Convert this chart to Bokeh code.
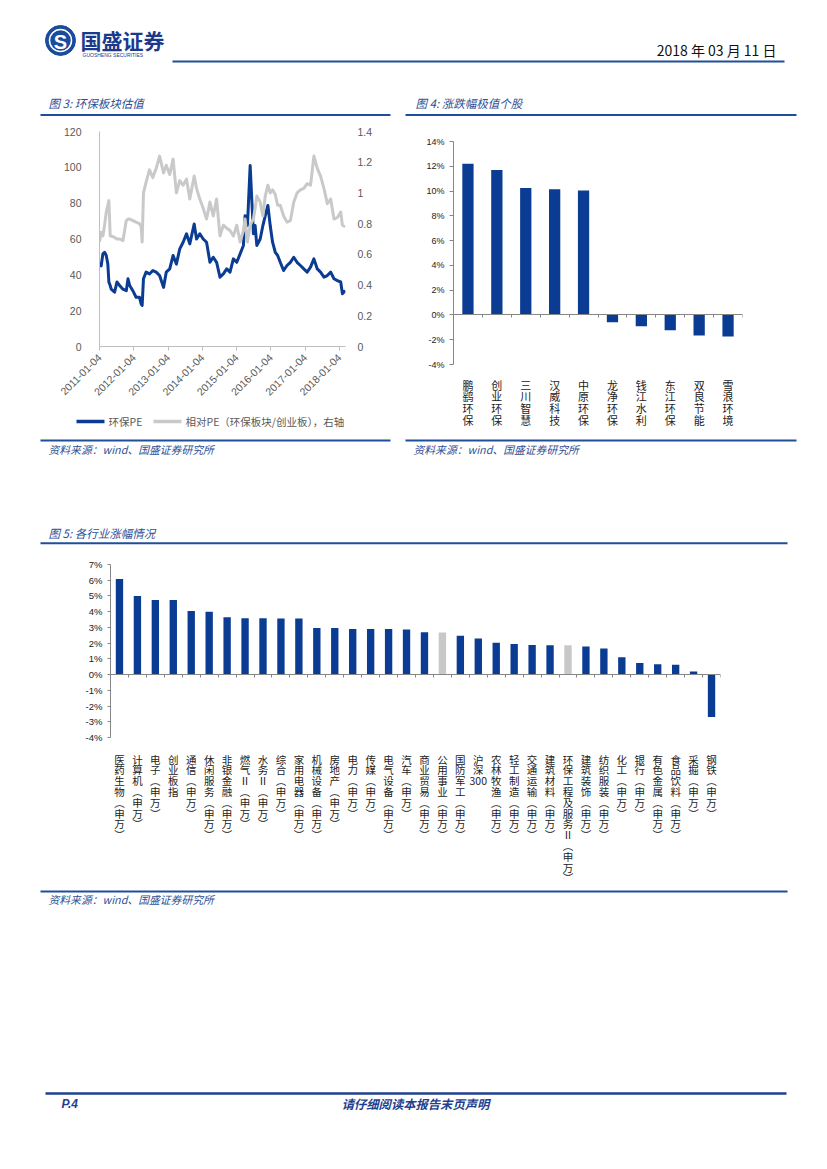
import math
import pandas as pd
from bokeh.plotting import figure
from bokeh.models import (Range1d, LinearAxis, FixedTicker, LinearScale,
                          DatetimeTickFormatter, NumeralTickFormatter, PrintfTickFormatter)
from bokeh.layouts import column, row
from bokeh.core.properties import value
from bokeh.embed import file_html
from bokeh.resources import INLINE

# ---------------- data ----------------
# Figure 3: 环保板块估值
dates3 = ["2011-01-04","2011-01-22","2011-02-09","2011-02-27","2011-03-17","2011-04-03","2011-04-14","2011-04-28","2011-05-09","2011-06-14",
          "2011-07-09","2011-08-07","2011-09-11","2011-10-17","2011-11-04","2011-11-22","2011-12-27","2012-01-29","2012-03-05","2012-03-23",
          "2012-04-03","2012-04-17","2012-05-15","2012-06-20","2012-07-26","2012-08-31","2012-10-06","2012-11-17","2012-12-16","2013-01-22",
          "2013-02-27","2013-04-03","2013-05-09","2013-06-14","2013-07-20","2013-08-24","2013-10-10","2013-11-04","2013-12-09","2014-01-14",
          "2014-02-19","2014-03-27","2014-05-01","2014-06-06","2014-07-12","2014-08-17","2014-09-22","2014-10-27","2014-12-02","2015-01-07",
          "2015-02-12","2015-03-19","2015-04-06","2015-05-01","2015-05-30","2015-06-16","2015-07-04","2015-07-22","2015-08-09","2015-09-14",
          "2015-10-13","2015-11-07","2015-12-05","2015-12-30","2016-01-24","2016-02-22","2016-03-18","2016-04-15","2016-05-21","2016-06-26",
          "2016-08-01","2016-09-06","2016-10-11","2016-11-16","2016-12-22","2017-01-27","2017-03-04","2017-04-09","2017-05-15","2017-06-19",
          "2017-07-25","2017-08-30","2017-10-05","2017-11-09","2017-12-15","2018-01-20","2018-02-07","2018-03-09"]
pe3 = [47, 45, 51.7, 52.6, 50.8, 46, 36, 34, 32, 30.3,
       36, 34, 32, 31.2, 37.8, 34, 31, 27.5, 27.5, 23.8,
       22.9, 37.8, 41.5, 40.5, 42.4, 41.5, 39.6, 33, 41.5, 43.3,
       50.8, 46, 54.5, 58.2, 62.9, 57.3, 68.4, 60, 62.9, 60,
       58.2, 47, 49.8, 47, 38.7, 40.5, 43.3, 41.5, 48.9, 47,
       51.7, 56.4, 73, 67.5, 101, 82.4, 62.9, 67.5, 56.4, 60,
       67.5, 73, 78.7, 67.5, 58.2, 52.6, 50.8, 47, 42.4, 45.2,
       47, 49.8, 47, 45.2, 43.3, 41.5, 44.3, 48.9, 43.3, 41.5,
       38.7, 39.6, 41.5, 37.8, 36.8, 36, 29.4, 31.2]
rel3 = [0.68, 0.744, 0.72, 0.79, 0.875, 0.92, 0.95, 0.72, 0.72, 0.71,
        0.70, 0.70, 0.69, 0.82, 0.83, 0.83, 0.82, 0.81, 0.80, 0.78,
        0.68, 1.0, 1.07, 1.15, 1.10, 1.16, 1.24, 1.13, 1.18, 1.12,
        1.22, 1.0, 1.08, 1.05, 1.09, 0.96, 1.11, 1.03, 0.96, 0.90,
        0.83, 0.94, 0.85, 0.96, 0.72, 0.79, 0.77, 0.755, 0.72, 0.79,
        0.68, 0.755, 0.83, 0.68, 0.79, 0.81, 0.83, 0.90, 0.98, 0.94,
        0.85, 0.98, 1.05, 1.0, 1.02, 0.99, 0.92, 0.92, 0.85, 0.81,
        0.82, 0.94, 1.0, 1.02, 1.03, 1.06, 1.05, 1.24, 1.16, 1.11,
        1.03, 0.93, 0.96, 0.83, 0.84, 0.875, 0.79, 0.78]
tick_dates3 = ["2011-01-04", "2012-01-04", "2013-01-04", "2014-01-04",
               "2015-01-04", "2016-01-04", "2017-01-04", "2018-01-04"]
left_ticks3 = [0, 20, 40, 60, 80, 100, 120]
right_ticks3 = [0, 0.2, 0.4, 0.6, 0.8, 1.0, 1.2, 1.4]
legend3 = ["环保PE", "相对PE（环保板块/创业板），右轴"]

# Figure 4: 涨跌幅极值个股 (%)
names4 = ["鹏鹞环保", "创业环保", "三川智慧", "汉威科技", "中原环保",
          "龙净环保", "钱江水利", "东江环保", "双良节能", "雪浪环境"]
vals4 = [12.2, 11.7, 10.25, 10.15, 10.05, -0.58, -0.92, -1.23, -1.65, -1.73]
ticks4 = [-4, -2, 0, 2, 4, 6, 8, 10, 12, 14]

# Figure 5: 各行业涨幅情况 (%)
names5 = ["医药生物(申万)", "计算机(申万)", "电子(申万)", "创业板指", "通信(申万)", "休闲服务(申万)",
          "非银金融(申万)", "燃气Ⅱ(申万)", "水务Ⅱ(申万)", "综合(申万)", "家用电器(申万)", "机械设备(申万)",
          "房地产(申万)", "电力(申万)", "传媒(申万)", "电气设备(申万)", "汽车(申万)", "商业贸易(申万)",
          "公用事业(申万)", "国防军工(申万)", "沪深300", "农林牧渔(申万)", "轻工制造(申万)", "交通运输(申万)",
          "建筑材料(申万)", "环保工程及服务Ⅱ(申万)", "建筑装饰(申万)", "纺织服装(申万)", "化工(申万)",
          "银行(申万)", "有色金属(申万)", "食品饮料(申万)", "采掘(申万)", "钢铁(申万)"]
vals5 = [6.08, 4.99, 4.74, 4.74, 4.05, 3.99, 3.64, 3.58, 3.58, 3.56, 3.56, 2.96,
         2.96, 2.90, 2.90, 2.90, 2.86, 2.70, 2.68, 2.47, 2.29, 2.02, 1.94, 1.88,
         1.86, 1.86, 1.78, 1.66, 1.10, 0.74, 0.65, 0.63, 0.20, -2.70]
highlight5 = ["公用事业(申万)", "环保工程及服务Ⅱ(申万)"]
ticks5 = [-4, -3, -2, -1, 0, 1, 2, 3, 4, 5, 6, 7]

# page texts
company = "国盛证券"
company_en = "GUOSHENG SECURITIES"
report_date = "2018 年 03 月 11 日"
title3 = "图 3:  环保板块估值"
title4 = "图 4:  涨跌幅极值个股"
title5 = "图 5:  各行业涨幅情况"
source = "资料来源：wind、国盛证券研究所"
page_no = "P.4"
footer = "请仔细阅读本报告末页声明"

# ---------------- styles ----------------
CJK = "Noto Sans CJK SC"
LAT = "Liberation Sans"
BLUE = "#0B3C93"
GREY_LINE = "#C9C9C9"
GREY_BAR = "#C8C8C8"
HEAD = "#2F4F95"
RULE = "#1F4E9A"
AX = "#868686"


def mk(**kw):
    p = figure(toolbar_location=None, output_backend="svg", outline_line_color=None, **kw)
    if "frame_align" in p.properties():
        p.frame_align = False
    return p


def strip(w, h):
    return mk(width=w, height=h, x_range=Range1d(0, w), y_range=Range1d(h, 0),
              min_border=0, x_axis_type=None, y_axis_type=None)


def txt(p, x, y, s, size, color="#000000", font=CJK, style="normal", align="left"):
    p.text(x=[x], y=[y], text=[s], text_font=value(font), text_font_size=f"{size}px",
           text_font_style=style, text_color=color, text_align=align, text_baseline="middle")


def rule(p, x0, x1, y, w=2, color=RULE):
    p.segment(x0=[x0], y0=[y], x1=[x1], y1=[y], line_width=w, line_color=color)


def vertical(s):
    out = []
    i = 0
    while i < len(s):
        if s[i:i + 3] == "300":
            out.append("300")
            i += 3
            continue
        ch = s[i]
        out.append({"(": "︵", ")": "︶"}.get(ch, ch))
        i += 1
    return "\n".join(out)


def bar_chart(names, vals, colors, width, height, borders, ylim, yticks, bar_w,
              lab_size, lab_lh, lab_standoff, ytick_size, ytick_out):
    n = len(names)
    p = mk(width=width, height=height, x_range=Range1d(0, n), y_range=Range1d(*ylim),
           min_border_left=borders[0], min_border_right=borders[1],
           min_border_top=borders[2], min_border_bottom=borders[3])
    p.grid.visible = False
    centers = [i + 0.5 for i in range(n)]
    p.vbar(x=centers, top=vals, width=bar_w, fill_color=colors, line_color=None)

    ca = p.xaxis[0]
    ca.ticker = FixedTicker(ticks=centers)
    ca.major_label_overrides = {c: vertical(nm) for c, nm in zip(centers, names)}
    ca.axis_line_color = None
    ca.major_tick_line_color = None
    ca.minor_tick_line_color = None
    ca.major_label_text_font = CJK
    ca.major_label_text_font_size = f"{lab_size}px"
    ca.major_label_text_line_height = lab_lh
    ca.major_label_text_color = "#222222"
    ca.major_label_standoff = lab_standoff

    za = LinearAxis(fixed_location=0, ticker=FixedTicker(ticks=list(range(n + 1))),
                    major_label_overrides={i: "" for i in range(n + 1)})
    za.axis_line_color = AX
    za.major_tick_line_color = AX
    za.major_tick_in = 0
    za.major_tick_out = 3
    za.minor_tick_line_color = None
    p.add_layout(za, "below")

    ya = p.yaxis[0]
    ya.ticker = FixedTicker(ticks=yticks)
    ya.formatter = PrintfTickFormatter(format="%d%%")
    ya.axis_line_color = AX
    ya.major_tick_line_color = AX
    ya.major_tick_in = 0
    ya.major_tick_out = ytick_out
    ya.minor_tick_line_color = None
    ya.major_label_text_font = LAT
    ya.major_label_text_font_size = f"{ytick_size}px"
    ya.major_label_text_color = "#222222"
    ya.major_label_standoff = 5
    return p


W = 827

# ---------------- top strip (page y 0-120) ----------------
s1 = strip(W, 120)
s1.circle(x=[60], y=[40], radius=15, fill_color="#1A4B9C", line_color="#1A4B9C")
s1.circle(x=[60], y=[40], radius=11, fill_color=None, line_color="white", line_width=1.5)
txt(s1, 60, 41, "S", 20, color="white", font=LAT, style="bold", align="center")
txt(s1, 80, 39, company, 21, color="#1C3A8C", style="bold")
txt(s1, 82, 54, company_en, 5, color="#1C3A8C", font=LAT)
txt(s1, 776, 49, report_date, 14, color="#111111", align="right")
rule(s1, 172, 784, 61, 2)
txt(s1, 48, 102, title3, 11.5, color=HEAD, style="italic")
txt(s1, 415, 102, title4, 11.5, color=HEAD, style="italic")
rule(s1, 40, 390, 114.5, 2)
rule(s1, 405, 796, 114.5, 2)

# ---------------- figure 3 (page y 120-410) ----------------
d3 = pd.to_datetime(dates3)
p3 = mk(width=398, height=290, x_axis_type="datetime",
        x_range=Range1d(pd.Timestamp("2011-01-04"), pd.Timestamp("2018-03-12")),
        y_range=Range1d(0, 120), min_border_left=99, min_border_right=53,
        min_border_top=11, min_border_bottom=64)
p3.extra_y_ranges = {"rel": Range1d(0, 1.4)}
p3.extra_y_scales = {"rel": LinearScale()}
p3.grid.visible = False
p3.line(d3, pe3, line_width=3, line_color=BLUE, line_join="round")
p3.line(d3, rel3, line_width=3, line_color=GREY_LINE, line_join="round", y_range_name="rel")

xa = p3.xaxis[0]
xa.ticker = FixedTicker(ticks=[pd.Timestamp(t).value / 1e6 for t in tick_dates3])
fmt = "%Y-%m-%d"
xa.formatter = DatetimeTickFormatter(microseconds=fmt, milliseconds=fmt, seconds=fmt, minsec=fmt,
                                     minutes=fmt, hourmin=fmt, hours=fmt, days=fmt, months=fmt, years=fmt)
xa.major_label_orientation = math.pi / 4
xa.major_label_text_font = LAT
xa.major_label_text_font_size = "10.5px"
xa.major_label_text_color = "#595959"
xa.axis_line_color = "#BFBFBF"
xa.major_tick_line_color = "#BFBFBF"
xa.major_tick_in = 0
xa.major_tick_out = 4
xa.minor_tick_line_color = None

ya = p3.yaxis[0]
ya.ticker = FixedTicker(ticks=left_ticks3)
ya.major_label_text_font = LAT
ya.major_label_text_font_size = "10.5px"
ya.major_label_text_color = "#595959"
ya.axis_line_color = "#BFBFBF"
ya.major_tick_line_color = None
ya.minor_tick_line_color = None
ya.major_label_standoff = 12

ra = LinearAxis(y_range_name="rel", ticker=FixedTicker(ticks=right_ticks3),
                formatter=NumeralTickFormatter(format="0.[0]"))
ra.major_label_text_font = LAT
ra.major_label_text_font_size = "10.5px"
ra.major_label_text_color = "#595959"
ra.axis_line_color = None
ra.major_tick_line_color = None
ra.minor_tick_line_color = None
ra.major_label_standoff = 6
p3.add_layout(ra, "right")

# legend strip for figure 3 (page y 410-430)
lg = strip(398, 20)
lg.segment(x0=[76], y0=[11], x1=[104], y1=[11], line_width=3.5, line_color=BLUE)
txt(lg, 108, 11, legend3[0], 10.5, color="#595959")
lg.segment(x0=[153], y0=[11], x1=[181], y1=[11], line_width=3.5, line_color=GREY_LINE)
txt(lg, 185, 11, legend3[1], 10.5, color="#595959")

# ---------------- figure 4 (page y 120-430) ----------------
p4 = bar_chart(names4, vals4, BLUE, 429, 310, (55, 85, 21, 60), (-4, 14), ticks4, 0.39,
               11, 0.73, 6, 9, 4)

# ---------------- middle strip (page y 430-555) ----------------
s2 = strip(W, 125)
rule(s2, 40, 390, 10, 2)
rule(s2, 405, 796, 10, 2)
txt(s2, 48, 18, source, 10.8, color=HEAD, style="italic")
txt(s2, 413, 18, source, 10.8, color=HEAD, style="italic")
txt(s2, 48, 102, title5, 11.5, color=HEAD, style="italic")
rule(s2, 40, 787, 112.7, 2)

# ---------------- figure 5 (page y 555-888) ----------------
colors5 = [GREY_BAR if n in highlight5 else BLUE for n in names5]
p5 = bar_chart(names5, vals5, colors5, W, 333, (110, 107, 9, 145), (-4, 7), ticks5, 0.41,
               10.5, 0.72, 8, 9.5, 3)

# ---------------- bottom strip (page y 888-1169) ----------------
s3 = strip(W, 281)
rule(s3, 40, 787, 3, 2)
txt(s3, 48, 10, source, 10.8, color=HEAD, style="italic")
rule(s3, 45, 786, 205, 2.5, color="#1F3F8F")
txt(s3, 61, 215, page_no, 12, color="#1F3F8F", font=LAT, style="bold italic")
txt(s3, 415, 215, footer, 12.3, color="#1F3F8F", style="bold italic", align="center")

layout = column(s1, row(column(p3, lg), p4), s2, p5, s3)
open("out.html", "w").write(file_html(layout, INLINE))
